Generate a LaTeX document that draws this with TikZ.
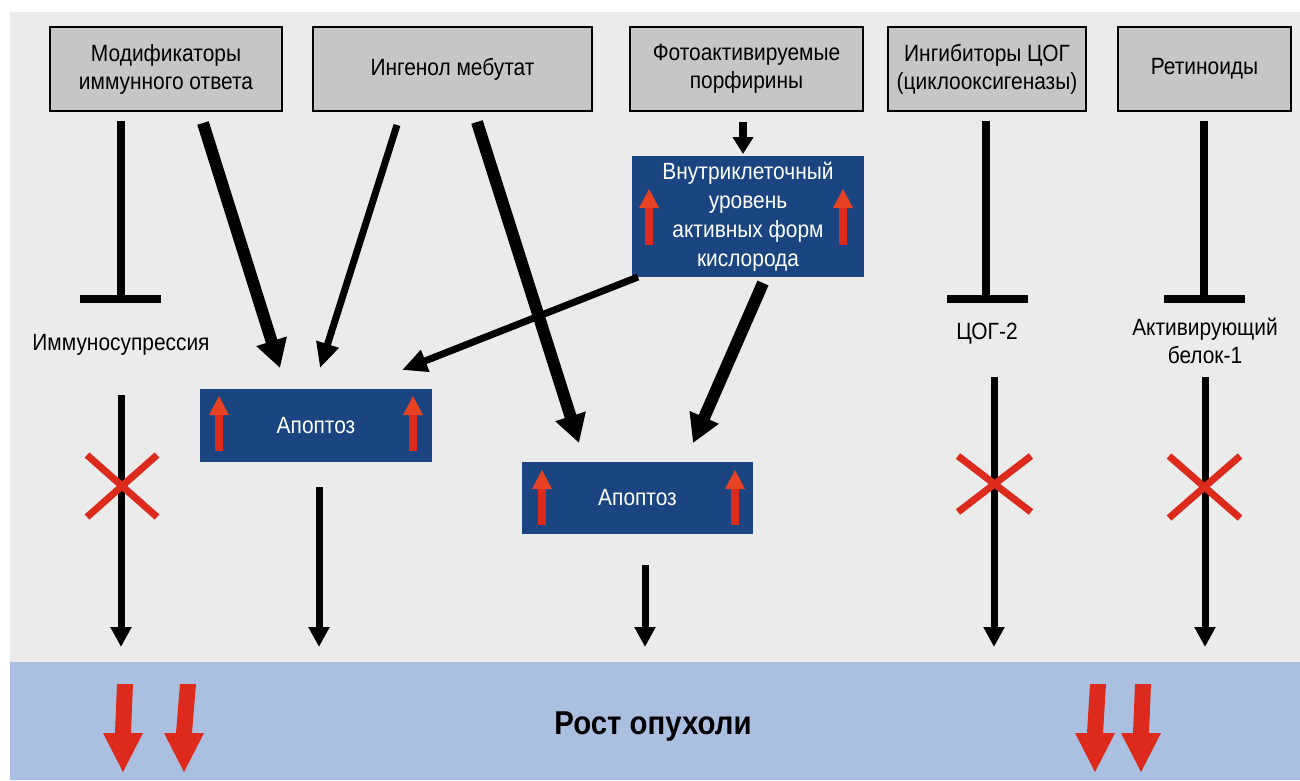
\documentclass[tikz,border=0pt]{standalone}
\usepackage{fontspec}
\setmainfont{Liberation Sans}[FakeStretch=0.89]
\usetikzlibrary{arrows.meta,calc}
\definecolor{bggray}{HTML}{EBEBEB}
\definecolor{boxgray}{HTML}{C6C6C6}
\definecolor{darkblue}{HTML}{1A4580}
\definecolor{bandblue}{HTML}{ABC0E0}
\definecolor{redx}{HTML}{DC2A1C}
\definecolor{redhead}{HTML}{E84224}
\tikzset{
  topbox/.style={draw=black, line width=2pt, fill=boxgray, minimum height=84pt, inner sep=0pt, align=center, font=\fontsize{23.5}{28}\selectfont},
  bluebox/.style={fill=darkblue, inner sep=0pt, align=center, text=white, font=\fontsize{23.5}{29}\selectfont},
  lbl/.style={align=center, font=\fontsize{23.5}{28}\selectfont},
  thickarr/.style={line width=12pt, -{Triangle[length=28pt,width=30pt]}},
  medarr/.style={line width=7pt, -{Triangle[length=25pt,width=22pt]}},
  vertarr/.style={line width=7pt, -{Triangle[length=20pt,width=20pt]}},
  tline/.style={line width=8pt},
  crossline/.style={line width=7pt, draw=redx}
}
\newcommand{\uparr}[3]{% x, ybottom, ytop
  \fill[redx] (#1-4,#2) rectangle (#1+4,#3+19);
  \fill[redhead] (#1-10,#3+19) -- (#1,#3) -- (#1+10,#3+19) -- cycle;
}
\newcommand{\bigdown}[4]{% xtop, ytop, xtip, ytip
  \fill[redx] (#1-8,#2) -- (#1+8,#2) -- (#3+8,#4-39) -- (#3+20,#4-39) -- (#3,#4) -- (#3-20,#4-39) -- (#3-8,#4-39) -- cycle;
}
\begin{document}
\begin{tikzpicture}[x=1pt,y=-1pt]
\useasboundingbox (0,0) rectangle (1300,780);
\fill[white] (0,0) rectangle (1300,780);
\fill[bggray] (10,12) rectangle (1300,662);
\fill[bandblue] (10,662) rectangle (1300,780);

% top boxes
\node[topbox, minimum width=232pt] (mod) at (166,69) {Модификаторы\\иммунного ответа};
\node[topbox, minimum width=279pt] (ing) at (452.5,69) {Ингенол мебутат};
\node[topbox, minimum width=233pt] (foto) at (746.5,69) {Фотоактивируемые\\порфирины};
\node[topbox, minimum width=198pt] (cog) at (987,69) {Ингибиторы ЦОГ\\(циклооксигеназы)};
\node[topbox, minimum width=173pt] (ret) at (1204.5,69) {Ретиноиды};

% blue boxes
\node[bluebox, minimum width=232pt, minimum height=121pt] (ros) at (748,216.5) {Внутриклеточный\\уровень\\активных форм\\кислорода};
\node[bluebox, minimum width=232pt, minimum height=73pt] (apo1) at (316,425.5) {Апоптоз};
\node[bluebox, minimum width=231pt, minimum height=72pt] (apo2) at (637.5,498) {Апоптоз};

\uparr{649}{245}{189}
\uparr{843}{245}{189}
\uparr{219}{451}{396}
\uparr{413}{451}{396}
\uparr{542}{525}{470}
\uparr{735}{525}{470}

% labels
\node[lbl] (imm) at (121,345) {Иммуносупрессия};
\node[lbl] (cog2) at (987,334) {ЦОГ-2};
\node[lbl] (ap1) at (1205,341) {Активирующий\\белок-1};

% bottom text
\node[font=\fontsize{33}{38}\selectfont\bfseries] (rost) at (653,727) {Рост опухоли};

% coordinates
\coordinate (a1) at (203,123); \coordinate (a2) at (280,368);
\coordinate (b1) at (397,125); \coordinate (b2) at (320,368);
\coordinate (c1) at (477,122); \coordinate (c2) at (579,443);
\coordinate (d1) at (638,277); \coordinate (d2) at (402,370);
\coordinate (e1) at (763,283); \coordinate (e2) at (693,443);
\coordinate (f1) at (743,122); \coordinate (f2) at (743,154);

\draw[thickarr] (a1) -- (a2);
\draw[medarr] (b1) -- (b2);
\draw[thickarr] (c1) -- (c2);
\draw[medarr] (d1) -- (d2);
\draw[thickarr] (e1) -- (e2);
\draw[line width=8pt, -{Triangle[length=17pt,width=20pt]}] (f1) -- (f2);

% inhibition T lines
\draw[tline] (121,121) -- (121,299);
\draw[tline] (80,299) -- (161,299);
\draw[tline] (986,121) -- (986,299);
\draw[tline] (947,299) -- (1028,299);
\draw[tline] (1204,121) -- (1204,299);
\draw[tline] (1164,299) -- (1245,299);

% vertical arrows to band
\coordinate (v1) at (121,395); \coordinate (w1) at (121,647);
\coordinate (v2) at (319,487); \coordinate (w2) at (319,647);
\coordinate (v3) at (645,565); \coordinate (w3) at (645,647);
\coordinate (v4) at (994,377); \coordinate (w4) at (994,647);
\coordinate (v5) at (1205,377); \coordinate (w5) at (1205,647);
\draw[vertarr] (v1) -- (w1);
\draw[vertarr] (v2) -- (w2);
\draw[vertarr] (v3) -- (w3);
\draw[vertarr] (v4) -- (w4);
\draw[vertarr] (v5) -- (w5);

% crosses
\draw[crossline] (87,455) -- (157,517);
\draw[crossline] (87,517) -- (157,455);
\draw[crossline] (958,456) -- (1031,512);
\draw[crossline] (958,512) -- (1031,456);
\draw[crossline] (1169,456) -- (1240,518);
\draw[crossline] (1169,518) -- (1240,456);

% big red arrows
\bigdown{125}{684}{123}{772}
\bigdown{188}{684}{184}{772}
\bigdown{1098}{684}{1095}{772}
\bigdown{1143}{684}{1141}{772}
\end{tikzpicture}
\end{document}
